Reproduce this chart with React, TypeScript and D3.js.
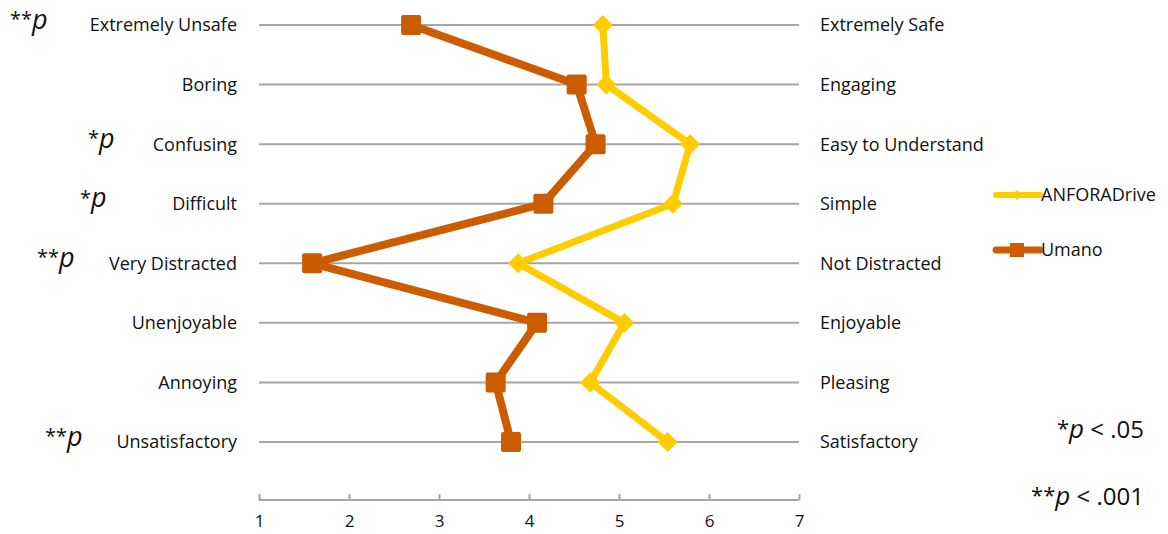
import React, { useRef, useEffect } from "react";
import * as d3 from "d3";

const leftLabels = ["Extremely Unsafe", "Boring", "Confusing", "Difficult", "Very Distracted", "Unenjoyable", "Annoying", "Unsatisfactory"];
const rightLabels = ["Extremely Safe", "Engaging", "Easy to Understand", "Simple", "Not Distracted", "Enjoyable", "Pleasing", "Satisfactory"];
const anforaValues = [4.82, 4.86, 5.79, 5.6, 3.88, 5.06, 4.68, 5.54];
const umanoValues = [2.69, 4.53, 4.74, 4.16, 1.59, 4.09, 3.63, 3.8];
const sigMarks = ["**", "", "*", "*", "**", "", "", "**"];
const xTicks = [1, 2, 3, 4, 5, 6, 7];
const sigOffsets = [10, 0, 88, 80, 37, 0, 0, 45];

const W = 1168, H = 534;
const FONT = "'Open Sans', 'Noto Sans', sans-serif";

export default function App() {
  const ref = useRef<SVGSVGElement>(null);
  useEffect(() => {
    const svg = d3.select(ref.current);
    svg.selectAll("*").remove();
    const x = d3.scaleLinear().domain([1, 7]).range([259, 799]);
    const y = d3.scalePoint<number>().domain(d3.range(8)).range([25, 442]);

    // grid lines
    svg.append("g").selectAll("line").data(d3.range(8)).join("line")
      .attr("x1", x(1)).attr("x2", x(7))
      .attr("y1", d => y(d)!).attr("y2", d => y(d)!)
      .attr("stroke", "#a6a6a6").attr("stroke-width", 2);

    // axis
    const axis = d3.axisBottom(x).tickValues(xTicks).tickSize(6).tickSizeOuter(0).tickFormat(d3.format("d"));
    const ag = svg.append("g").attr("transform", "translate(0,500)").call(axis);
    ag.select(".domain").attr("stroke", "#a6a6a6").attr("stroke-width", 2).attr("d", `M${x(1)},0H${x(7)}`);
    ag.selectAll(".tick line").attr("stroke", "#a6a6a6").attr("stroke-width", 2).attr("y1", 0).attr("y2", 6).attr("transform", "translate(0,-6)");
    ag.selectAll(".tick text").attr("font-family", FONT).attr("font-size", 17).attr("fill", "#111").attr("dy", "1.05em");

    // labels
    svg.append("g").selectAll("text").data(leftLabels).join("text")
      .attr("x", 237).attr("y", (d, i) => y(i)!).attr("dy", "0.36em")
      .attr("text-anchor", "end").attr("font-family", FONT).attr("font-size", 18).attr("fill", "#111").text(d => d);
    svg.append("g").selectAll("text").data(rightLabels).join("text")
      .attr("x", 820).attr("y", (d, i) => y(i)!).attr("dy", "0.36em")
      .attr("font-family", FONT).attr("font-size", 18).attr("fill", "#111").text(d => d);

    // sig marks
    const sg = svg.append("g");
    sigMarks.forEach((m, i) => {
      if (!m) return;
      const t = sg.append("text").attr("x", sigOffsets[i]).attr("y", y(i)! + 3)
        .attr("font-family", FONT).attr("fill", "#111");
      t.append("tspan").attr("font-size", 20).attr("dy", "-0.1em").text(m);
      t.append("tspan").attr("font-size", 27).attr("font-style", "italic").attr("dy", "0.1em").text("p");
    });

    const line = d3.line<number>().x(d => x(d)).y((d, i) => y(i)!);
    const orange = "#cc5c00", yellow = "#ffcc00";

    svg.append("path").attr("d", line(anforaValues)).attr("fill", "none").attr("stroke", yellow).attr("stroke-width", 7).attr("stroke-linejoin", "round");
    svg.append("path").attr("d", line(umanoValues)).attr("fill", "none").attr("stroke", orange).attr("stroke-width", 8).attr("stroke-linejoin", "round");

    const sym = d3.symbol();
    svg.append("g").selectAll("path").data(anforaValues).join("path")
      .attr("d", sym.type(d3.symbolSquare).size(200)())
      .attr("transform", (d, i) => `translate(${x(d)},${y(i)}) rotate(45)`)
      .attr("fill", yellow);
    svg.append("g").selectAll("rect").data(umanoValues).join("rect")
      .attr("x", d => x(d) - 10).attr("y", (d, i) => y(i)! - 10).attr("width", 20).attr("height", 20).attr("rx", 2)
      .attr("fill", orange);

    // legend
    const lg = svg.append("g");
    const items = [{ name: "ANFORADrive", c: yellow, yy: 195, t: "d" }, { name: "Umano", c: orange, yy: 250, t: "s" }];
    items.forEach(it => {
      lg.append("line").attr("x1", 996).attr("x2", 1040).attr("y1", it.yy).attr("y2", it.yy).attr("stroke", it.c).attr("stroke-width", it.t === "d" ? 6 : 7).attr("stroke-linecap", "round");
      if (it.t === "d") {
        lg.append("path").attr("d", d3.symbol().type(d3.symbolSquare).size(50)()).attr("transform", `translate(1017,${it.yy}) rotate(45)`).attr("fill", it.c);
      } else {
        lg.append("rect").attr("x", 1010).attr("y", it.yy - 7).attr("width", 14).attr("height", 14).attr("fill", it.c);
      }
      lg.append("text").attr("x", 1041).attr("y", it.yy).attr("dy", "0.36em").attr("font-family", FONT).attr("font-size", 18).attr("fill", "#111").text(it.name);
    });

    // footnotes
    const fn = [{ s: "*", rest: " < .05", yy: 438 }, { s: "**", rest: " < .001", yy: 505 }];
    fn.forEach(f => {
      const t = svg.append("text").attr("x", 1144).attr("y", f.yy).attr("text-anchor", "end").attr("font-family", FONT).attr("fill", "#111").attr("font-size", 24);
      t.append("tspan").attr("font-size", 22).attr("dy", "-0.1em").text(f.s);
      t.append("tspan").attr("font-style", "italic").attr("font-size", 26).attr("dy", "0.1em").text("p");
      t.append("tspan").attr("font-size", 24).text(f.rest);
    });
  }, []);
  return <svg ref={ref} width={W} height={H} style={{ position: "absolute", left: 0, top: 0, background: "#fff" }} />;
}
